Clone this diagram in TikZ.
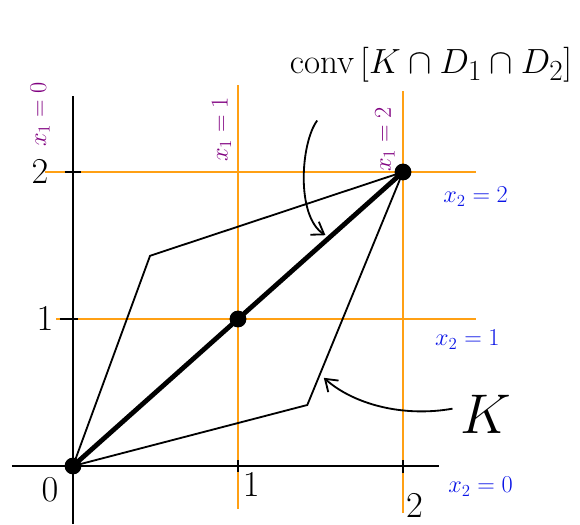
\documentclass[tikz,border=0pt]{standalone}
\usepackage{amsmath, amssymb}
\usepackage{graphicx}
\usepackage{tikz}
\usetikzlibrary{arrows.meta,calc}
\usepackage{xcolor}
\definecolor{gridorange}{RGB}{255,160,20}
\definecolor{labpurple}{RGB}{128,0,128}
\definecolor{labblue}{RGB}{10,20,230}

\newcommand{\bignum}[1]{\scalebox{1.25}{\huge$#1$}}

\tikzset{
  gridline/.style={gridorange, line width=1.9pt},
  axisline/.style={black, line width=1.5pt},
  kedge/.style={black, line width=1.3pt},
  dot/.style={circle, fill=black, inner sep=0pt, minimum size=12pt},
  xonelab/.style={labpurple, rotate=90, font=\LARGE},
  xtwolab/.style={labblue, font=\LARGE},
  pointer/.style={line width=1.3pt, -{Straight Barb[length=8pt,width=11pt]}}
}

\begin{document}
\begin{tikzpicture}[x=4.125cm, y=3.675cm]
    \useasboundingbox (-0.4424,-0.3946) rectangle (3.0727,3.170);
    % orange grid
    \draw[gridline] (-0.17,2) -- (2.44,2);
    \draw[gridline] (-0.10,1) -- (2.44,1);
    \draw[gridline] (1,-0.29) -- (1,2.59);
    \draw[gridline] (2,-0.32) -- (2,2.55);
    % axes
    \draw[axisline] (0,-0.395) -- (0,2.52);
    \draw[axisline] (-0.37,0) -- (2.22,0);
    \draw[axisline] (-0.05,2) -- (0.05,2);
    \draw[axisline] (-0.08,1) -- (0.03,1);
    \draw[axisline] (1,-0.04) -- (1,0.04);
    \draw[axisline] (2,-0.05) -- (2,0.04);
    % polytope K
    \coordinate (A) at (0,0);
    \coordinate (B) at (0.467,1.43);
    \coordinate (C) at (2,2);
    \coordinate (D) at (1.42,0.415);
    \coordinate (M) at (1,1);
    \draw[kedge] (A) -- (B) -- (C) -- (D) -- cycle;
    \draw[line width=3.4pt] (A) -- (C);
    \node[dot] (pA) at (A) {};
    \node[dot] (pM) at (M) {};
    \node[dot] (pC) at (C) {};
    % tick labels
    \node (t2) at (-0.2,2) {\bignum{2}};
    \node (t1) at (-0.17,1) {\bignum{1}};
    \node (t0) at (-0.14,-0.16) {\bignum{0}};
    \node (s1) at (1.08,-0.13) {\bignum{1}};
    \node (s2) at (2.07,-0.27) {\bignum{2}};
    % line labels
    \node[xonelab] (lx10) at (-0.2,2.39) {$x_1=0$};
    \node[xonelab] (lx11) at (0.9,2.29) {$x_1=1$};
    \node[xonelab] (lx12) at (1.89,2.22) {$x_1=2$};
    \node[xtwolab] (lx22) at (2.44,1.83) {$x_2=2$};
    \node[xtwolab] (lx21) at (2.39,0.86) {$x_2=1$};
    \node[xtwolab] (lx20) at (2.47,-0.14) {$x_2=0$};
    % annotations
    \node (conv) at (2.17,2.73) {\Huge$\mathrm{conv}\,[K\cap D_1\cap D_2]$};
    \node (klab) at (2.50,0.35) {\scalebox{1.6}{\Huge$K$}};
    \coordinate (convtail) at (1.48,2.35);
    \coordinate (convhead) at (1.53,1.57);
    \coordinate (ktail) at (2.30,0.39);
    \coordinate (khead) at (1.52,0.6);
    \draw[pointer] (convtail) .. controls (1.38,2.2) and (1.35,1.7) .. (convhead);
    \draw[pointer] (ktail) .. controls (2.0,0.33) and (1.7,0.42) .. (khead);
\end{tikzpicture}
\end{document}
